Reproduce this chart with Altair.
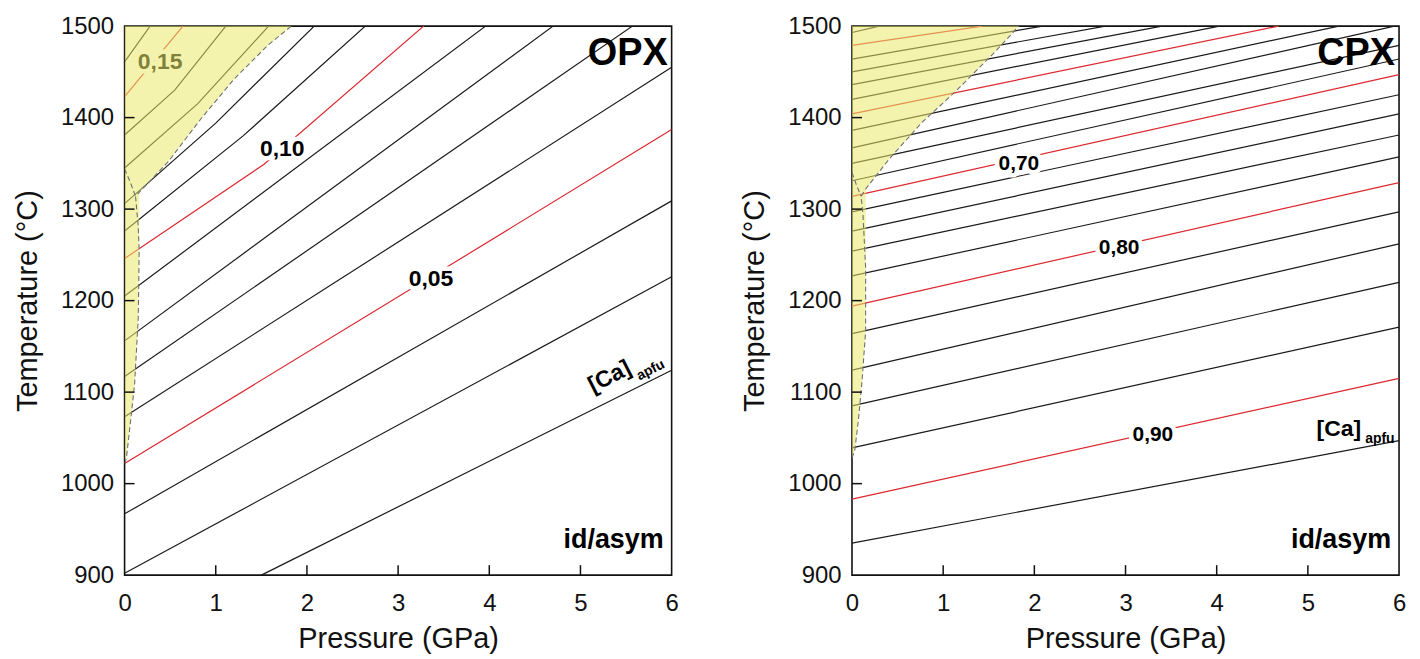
import altair as alt
import pandas as pd

FONT = "Liberation Sans"
W, H = 549, 551

# ---------------- OPX isopleths ([Ca] apfu) ----------------
OPX_LEVELS = [0.02, 0.03, 0.04, 0.05, 0.06, 0.07, 0.08, 0.09, 0.10, 0.11, 0.12, 0.13, 0.14, 0.15, 0.16]
OPX_P = [
    [1.50, 6.00], [0.0, 6.0], [0.0, 6.0], [0.0, 3.36, 6.0], [0.0, 6.0],
    [0.0, 5.57], [0.0, 4.70], [0.0, 3.96], [0.0, 1.53, 3.28], [0.0, 1.30, 2.64],
    [0.0, 1.00, 2.08], [0.0, 0.80, 1.58], [0.0, 0.55, 1.11], [0.0, 0.64], [0.0, 0.28],
]
OPX_T = [
    [900, 1124], [902, 1226], [967, 1309], [1022, 1226, 1387], [1073, 1455],
    [1117, 1500], [1156, 1500], [1205, 1500], [1246, 1349, 1500], [1276, 1380, 1500],
    [1306, 1394, 1500], [1345, 1415, 1500], [1381, 1430, 1500], [1423, 1500], [1461, 1500],
]
OPX_RED = [0.05, 0.10, 0.15]
# yellow field: lower boundary as P increases (upper edge is the 1500 °C frame)
OPX_FILL_P = [0.0, 0.02, 0.07, 0.11, 0.15, 0.16, 0.161, 0.48, 0.84, 1.20, 1.57, 1.83]
OPX_FILL_T = [1022, 1028, 1072, 1109, 1181, 1254, 1319, 1352, 1399, 1442, 1479, 1500]
# dashed boundary traced from the tip upward
OPX_BND_P = [0.0, 0.02, 0.07, 0.11, 0.15, 0.16, 0.15, 0.12, 0.48, 0.84, 1.20, 1.57, 1.83]
OPX_BND_T = [1022, 1028, 1072, 1109, 1181, 1254, 1281, 1314, 1352, 1399, 1442, 1479, 1500]
OPX_BR_P = [0.0, 0.06, 0.12]
OPX_BR_T = [1344, 1330, 1314]
OPX_LAB_TEXT = ["0,15", "0,10", "0,05"]
OPX_LAB_P = [0.39, 1.73, 3.36]
OPX_LAB_T = [1461, 1366, 1224]

# ---------------- CPX isopleths ([Ca] apfu) ----------------
CPX_LEVELS = [0.48, 0.50, 0.52, 0.54, 0.56, 0.58, 0.60, 0.62, 0.64, 0.66, 0.68, 0.70,
              0.72, 0.74, 0.76, 0.78, 0.80, 0.82, 0.84, 0.86, 0.88, 0.90, 0.92]
CPX_P = [
    [0.0, 0.30], [0.0, 1.43], [0.0, 2.09], [0.0, 2.78], [0.0, 3.40], [0.0, 4.03],
    [0.0, 4.68], [0.0, 5.34], [0.0, 5.95], [0.0, 6.0], [0.0, 6.0], [0.0, 6.0],
    [0.0, 6.0], [0.0, 6.0], [0.0, 6.0], [0.0, 6.0], [0.0, 6.0], [0.0, 6.0],
    [0.0, 6.0], [0.0, 6.0], [0.0, 6.0], [0.0, 6.0], [0.0, 6.0],
]
CPX_T = [
    [1493, 1500], [1479, 1500], [1464, 1500], [1450, 1500], [1436, 1500], [1420, 1500],
    [1404, 1500], [1386, 1500], [1367, 1500], [1350, 1479], [1331, 1464], [1314, 1447],
    [1297, 1425], [1276, 1404], [1254, 1381], [1227, 1357], [1194, 1329], [1164, 1297],
    [1124, 1262], [1085, 1220], [1039, 1171], [983, 1115], [935, 1047],
]
CPX_RED = [0.50, 0.60, 0.70, 0.80, 0.90]
CPX_FILL_P = [0.0, 0.03, 0.07, 0.11, 0.15, 0.151, 0.152, 0.41, 0.77, 1.13, 1.57, 1.83]
CPX_FILL_T = [1028, 1036, 1069, 1112, 1167, 1235, 1322, 1355, 1395, 1428, 1472, 1500]
CPX_BND_P = [0.0, 0.03, 0.07, 0.11, 0.15, 0.15, 0.12, 0.10, 0.15, 0.41, 0.77, 1.13, 1.57, 1.83]
CPX_BND_T = [1028, 1036, 1069, 1112, 1167, 1235, 1295, 1314, 1322, 1355, 1395, 1428, 1472, 1500]
CPX_BR_P = [0.0, 0.05, 0.10]
CPX_BR_T = [1340, 1326, 1314]
CPX_LAB_TEXT = ["0,70", "0,80", "0,90"]
CPX_LAB_P = [1.83, 2.93, 3.30]
CPX_LAB_T = [1349, 1257, 1053]

X_TICKS = [1, 2, 3, 4, 5]
Y_TICKS = [1000, 1100, 1200, 1300, 1400]

BLACK = "#1a1a1a"
RED = "#dc2830"
FILL = "#ebea6c"


def lines_df(levels, Ps, Ts, red):
    reds = {round(r, 2) for r in red}
    rows = []
    for lev, ps, ts in zip(levels, Ps, Ts):
        for i, (p, t) in enumerate(zip(ps, ts)):
            rows.append({"level": lev, "i": i, "P": p, "T": t,
                         "kind": "red" if round(lev, 2) in reds else "black"})
    return pd.DataFrame(rows)


def panel(levels, Ps, Ts, red, fP, fT, bP, bT, brP, brT, labT, labP, labTT, lab_size,
          mineral, ca_P, ca_T, sub_P, sub_T, ca_angle):
    xs = alt.Scale(domain=[0, 6], nice=False, zero=False)
    ys = alt.Scale(domain=[900, 1500], nice=False, zero=False)
    xax = alt.Axis(values=list(range(7)), title="Pressure (GPa)", format="d")
    yax = alt.Axis(values=list(range(900, 1501, 100)), title="Temperature (°C)", format="d")
    X = alt.X("P:Q", scale=xs, axis=xax)
    Y = alt.Y("T:Q", scale=ys, axis=yax)

    ldf = lines_df(levels, Ps, Ts, red)
    lines = alt.Chart(ldf).mark_line(strokeWidth=1.2, clip=True).encode(
        x=X, y=Y, detail="level:N", order="i:Q",
        color=alt.Color("kind:N", scale=alt.Scale(domain=["black", "red"], range=[BLACK, RED]), legend=None),
    )

    labdf = pd.DataFrame({"P": labP, "T": labTT, "txt": labT})
    mask = alt.Chart(labdf).mark_text(font=FONT, fontSize=lab_size, fontWeight="bold",
                                      stroke="white", strokeWidth=9, strokeJoin="round",
                                      fill="white").encode(x=X, y=Y, text="txt:N")
    labs = alt.Chart(labdf).mark_text(font=FONT, fontSize=lab_size, fontWeight="bold",
                                      color="#000").encode(x=X, y=Y, text="txt:N")

    fdf = pd.DataFrame({"P": fP, "T": fT, "Ttop": [1500] * len(fP)})
    overlay = alt.Chart(fdf).mark_area(color=FILL, fillOpacity=0.55, opacity=1, clip=True).encode(
        x=X, y=Y, y2="Ttop")

    dash_rows = []
    for i, (p, t) in enumerate(zip(bP, bT)):
        dash_rows.append({"g": "main", "i": i, "P": p, "T": t})
    for i, (p, t) in enumerate(zip(brP, brT)):
        dash_rows.append({"g": "branch", "i": i, "P": p, "T": t})
    ddf = pd.DataFrame(dash_rows)
    dashed = alt.Chart(ddf).mark_line(strokeDash=[5, 3], color="#707070", strokeWidth=1.1, clip=True).encode(
        x=X, y=Y, detail="g:N", order="i:Q")

    xt = alt.Chart(pd.DataFrame({"P": X_TICKS})).mark_rule(color="#111", strokeWidth=1.5).encode(
        x=X, y=alt.value(H), y2=alt.value(H - 10))
    yt = alt.Chart(pd.DataFrame({"T": Y_TICKS})).mark_rule(color="#111", strokeWidth=1.5).encode(
        y=Y, x=alt.value(0), x2=alt.value(10))

    one = pd.DataFrame({"a": [0]})
    mtxt = alt.Chart(one).mark_text(font=FONT, fontSize=38, fontWeight="bold", align="right",
                                    baseline="alphabetic", color="#000", text=mineral).encode(
        x=alt.value(W - 4), y=alt.value(39))
    idtxt = alt.Chart(one).mark_text(font=FONT, fontSize=27, fontWeight="bold", align="right",
                                     baseline="alphabetic", color="#000", text="id/asym").encode(
        x=alt.value(W - 8), y=alt.value(H - 27))

    ca = alt.Chart(pd.DataFrame({"P": [ca_P], "T": [ca_T]})).mark_text(
        font=FONT, fontSize=23, fontWeight="bold", color="#000", angle=ca_angle,
        align="center", baseline="middle", text="[Ca]").encode(x=X, y=Y)
    sub = alt.Chart(pd.DataFrame({"P": [sub_P], "T": [sub_T]})).mark_text(
        font=FONT, fontSize=14, fontWeight="bold", color="#000", angle=ca_angle,
        align="center", baseline="middle", text="apfu").encode(x=X, y=Y)

    return alt.layer(lines, mask, labs, overlay, dashed, xt, yt, mtxt, idtxt, ca, sub).properties(
        width=W, height=H)


opx = panel(OPX_LEVELS, OPX_P, OPX_T, OPX_RED, OPX_FILL_P, OPX_FILL_T, OPX_BND_P, OPX_BND_T,
            OPX_BR_P, OPX_BR_T, OPX_LAB_TEXT, OPX_LAB_P, OPX_LAB_T, 23, "OPX",
            5.32, 1117, 5.77, 1124, 333)
cpx = panel(CPX_LEVELS, CPX_P, CPX_T, CPX_RED, CPX_FILL_P, CPX_FILL_T, CPX_BND_P, CPX_BND_T,
            CPX_BR_P, CPX_BR_T, CPX_LAB_TEXT, CPX_LAB_P, CPX_LAB_T, 21, "CPX",
            5.34, 1060, 5.79, 1049, 0)

chart = alt.hconcat(opx, cpx, spacing=60).properties(
    padding={"left": 4, "top": 4, "right": 5, "bottom": 5},
    background="white",
).configure_view(stroke="#111", strokeWidth=1.6).configure_axis(
    labelFont=FONT, labelFontSize=24, labelColor="#111",
    titleFont=FONT, titleFontSize=29, titleFontWeight="normal", titleColor="#111",
    grid=False, domain=False, ticks=False, labelOverlap=False,
).configure_axisX(labelPadding=16, titlePadding=10, labelFlush=False).configure_axisY(
    labelPadding=11, titlePadding=18)

chart.save("out.html", embed_options={"renderer": "svg", "actions": False})
